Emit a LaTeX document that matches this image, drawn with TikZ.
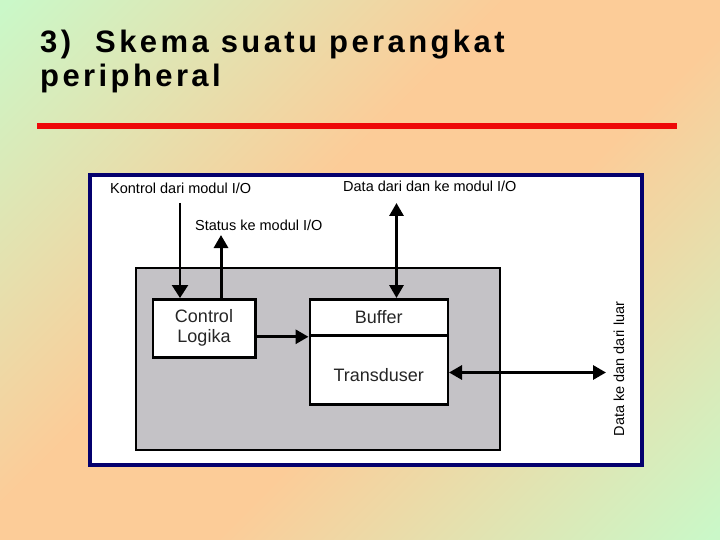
\documentclass[tikz,border=0pt]{standalone}
\usepackage{fontspec}
\setmainfont{Liberation Sans}
\usetikzlibrary{arrows.meta}

\definecolor{bggreen}{RGB}{202,248,200}
\definecolor{bgorange}{RGB}{252,204,152}
\definecolor{framenavy}{RGB}{4,0,110}
\definecolor{panelgray}{RGB}{196,194,198}
\definecolor{rulered}{RGB}{238,8,8}

\pgfdeclarehorizontalshading{slidebg}{100bp}{color(0bp)=(bggreen); color(15bp)=(bggreen); color(43bp)=(bgorange); color(57bp)=(bgorange); color(85bp)=(bggreen); color(100bp)=(bggreen)}

\begin{document}
\begin{tikzpicture}[x=1pt, y=-1pt,
  title/.style={align=left, inner sep=0pt, font=\fontsize{31}{34}\selectfont\bfseries\addfontfeature{LetterSpace=11}},
  frame/.style={draw=framenavy, line width=4pt, fill=white, inner sep=0pt},
  panel/.style={draw, line width=2pt, fill=panelgray, inner sep=0pt},
  block/.style={draw, line width=2.5pt, fill=white, align=center, inner sep=0pt, text=black!85, font=\fontsize{18}{20}\selectfont},
  iolabel/.style={inner sep=0pt, font=\fontsize{14.5}{16}\selectfont},
  arr/.style={-{Triangle[length=13pt,width=14pt]}, line width=3pt},
  arrs/.style={{Triangle[length=13pt,width=14pt]}-{Triangle[length=13pt,width=14pt]}, line width=3pt}
]
\useasboundingbox (0,0) rectangle (720,540);
\shade[shading=slidebg, shading angle=-45] (0,0) rectangle (720,540);

\node[title, anchor=north west] (title) at (40,29.5)
  {3)\ \ Skema suatu perangkat\\peripheral};
\draw[rulered, line width=6.5pt] (37,126) -- (677,126);

\node[frame, minimum width=552pt, minimum height=290pt] (frame) at (366,320) {};
\node[panel, minimum width=364.5pt, minimum height=182pt] (panel) at (317.75,359) {};

\node[block, minimum width=102.5pt, minimum height=58pt] (ctrl) at (204,328.25)
  {Control\\Logika};
\node[block, minimum width=138pt, minimum height=36.25pt] (buffer) at (378.75,317.4)
  {Buffer};
\node[block, minimum width=138pt, minimum height=68.75pt, text height=23pt] (trans) at (378.75,369.9)
  {Transduser};

\node[iolabel, anchor=west] (kontrollbl) at (110,188) {Kontrol dari modul I/O};
\node[iolabel, anchor=west] (statuslbl) at (195,225) {Status ke modul I/O};
\node[iolabel, anchor=west] (datalbl) at (343,186) {Data dari dan ke modul I/O};
\node[iolabel, rotate=90] (luarlbl) at (619,369) {Data ke dan dari luar};

\coordinate (kontrolin) at (180,203);
\coordinate (statusout) at (221,235);
\coordinate (busend) at (396.5,203);
\coordinate (luarend) at (606,372.5);

\draw[-{Triangle[length=13pt,width=16pt]}, line width=2.5pt] (kontrolin) -- (kontrolin |- ctrl.north);
\draw[arr] (statusout |- ctrl.north) -- (statusout);
\draw[arr] (ctrl.east |- buffer.south) -- (buffer.south west);
\draw[arrs] (busend) -- (busend |- buffer.north);
\draw[arrs] (trans.east |- luarend) -- (luarend);
\end{tikzpicture}
\end{document}
